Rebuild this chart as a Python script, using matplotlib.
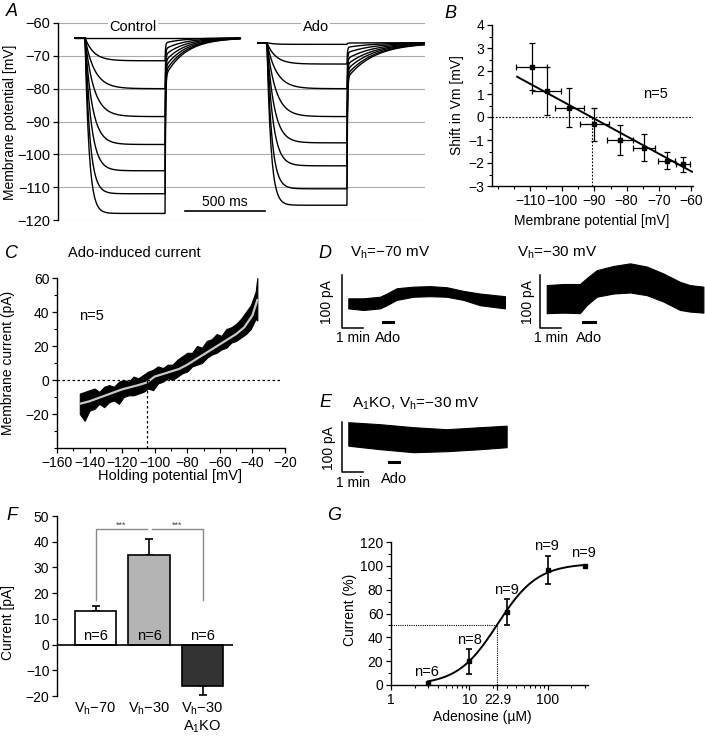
import numpy as np
import matplotlib
matplotlib.use("Agg")
import matplotlib.pyplot as plt
from matplotlib.ticker import MultipleLocator, LogLocator, NullFormatter

plt.rcParams['font.family'] = ['Liberation Sans', 'DejaVu Sans']
plt.rcParams['mathtext.fontset'] = 'custom'
plt.rcParams['mathtext.rm'] = 'Liberation Sans'
plt.rcParams['mathtext.it'] = 'Liberation Sans:italic'
plt.rcParams['font.size'] = 10
plt.rcParams['axes.linewidth'] = 1.0
for a in ('xtick', 'ytick'):
    plt.rcParams[a + '.direction'] = 'out'
    plt.rcParams[a + '.major.size'] = 3.5
    plt.rcParams[a + '.minor.size'] = 2
    plt.rcParams[a + '.major.width'] = 0.9
    plt.rcParams[a + '.minor.width'] = 0.8
    plt.rcParams[a + '.major.pad'] = 2
    plt.rcParams[a + '.labelsize'] = 10

# ---- A: voltage responses to current steps (ms, mV)
ctrl_times = [106, 169, 669, 1137]      # start, step on, step off, end
ado_times = [1250, 1306, 1806, 2294]
ctrl_base = -64.5
ado_base = -66.0
ctrl_steady = [-64.5, -71.5, -80, -88.5, -97, -105, -112, -118]
ado_steady = [-66.5, -72.5, -80, -88.5, -96.5, -103.5, -110.5, -115.5]
step_tau = [40, 55, 60, 55, 45, 38, 30, 25]
ctrl_tau_rec = 130
ado_tau_rec = 170

# ---- B: shift in Vm vs membrane potential
b_x = [-109.5, -104.8, -97.8, -90.0, -82.0, -74.6, -67.6, -62.4]
b_y = [2.19, 1.14, 0.41, -0.32, -1.0, -1.33, -1.9, -2.06]
b_xerr = [4.8, 4.5, 4.5, 4.5, 4.0, 3.4, 2.6, 2.2]
b_yerr = [1.03, 1.05, 0.83, 0.72, 0.67, 0.6, 0.37, 0.33]
b_fit_x = [-114.0, -59.7]
b_fit_y = [1.75, -2.38]
b_reversal = -90.8

# ---- C: Ado-induced current vs holding potential
c_x = [-146, -143, -140, -137, -134, -131, -128, -125, -122, -119, -116, -113, -110,
       -107, -104, -101, -98, -95, -92, -89, -86, -83, -80, -77, -74, -71, -68, -65,
       -62, -59, -56, -53, -50, -47, -44, -41, -38, -37]
c_upper = [-8, -7, -6, -5, -7, -4, -3, -4, -1, 0, -1, 2, 1, 3, 5, 6, 8, 7, 9, 9,
           12, 14, 16, 16, 20, 19, 23, 24, 27, 26, 30, 31, 33, 36, 40, 44, 52, 60]
c_lower = [-20, -24, -18, -17, -14, -16, -13, -12, -14, -10, -9, -9, -8, -7, -5, -6, -2, -1, 1, 0,
           2, 4, 5, 8, 9, 10, 13, 15, 16, 18, 19, 22, 23, 25, 27, 30, 36, 35]
c_fit_x = [-146, -140, -130, -120, -110, -105, -100, -95, -90, -85, -80, -70, -60, -50, -45, -40, -37]
c_fit_y = [-14, -12.5, -9, -5.5, -3, -1.5, 2, 3.5, 5, 6.5, 9, 15, 21, 27, 31, 38, 47]
c_reversal = -105

# ---- D / E: holding current traces (min, pA) as envelope of the noisy band
d1_x = [0.30, 1.02, 1.81, 2.13, 2.60, 3.40, 4.19, 4.98, 5.78, 6.57, 7.76]
d1_top = [56, 56, 59, 65, 75, 78, 79, 77, 70, 65, 60]
d1_bot = [37, 34, 37, 43, 53, 59, 60, 59, 53, 43, 37]
d2_x = [0.32, 1.11, 1.90, 2.22, 2.70, 3.49, 4.29, 5.08, 5.87, 6.67, 7.14, 7.78]
d2_top = [81, 83, 83, 94, 109, 117, 122, 116, 103, 87, 81, 78]
d2_bot = [28, 29, 28, 43, 59, 65, 67, 62, 50, 34, 31, 29]
e_x = [0.30, 1.81, 3.40, 4.98, 6.57, 7.84]
e_top = [99, 95, 89, 85, 89, 92]
e_bot = [52, 45, 39, 41, 45, 49]
ado_bar = [(1.95, 2.43), (2.05, 2.60), (2.24, 2.71)]

# ---- F: bar chart
f_labels = ['V$_\\mathrm{h}$\u221270', 'V$_\\mathrm{h}$\u221230', 'V$_\\mathrm{h}$\u221230\nA$_1$KO']
f_values = [13, 35, -16.2]
f_err = [2, 6, 3.3]
f_colors = ['white', '#b4b4b4', '#333333']

# ---- G: concentration-response
g_conc = [3, 10, 30, 100, 300]
g_resp = [1.4, 20, 61, 96.5, 100]
g_err = [0, 10.5, 11, 12, 0]
g_n = ['n=6', 'n=8', 'n=9', 'n=9', 'n=9']
g_n_pos = [(2.85, 11), (10, 38), (30, 79.5), (97, 116.5), (285, 110.8)]
g_ec50 = 22.9
g_hill = 1.7
g_top = 102

W, H = 705, 737
fig = plt.figure(figsize=(W / 100, H / 100), dpi=100)


def px_axes(left, top, right, bottom):
    return fig.add_axes([left / W, 1 - bottom / H, (right - left) / W, (bottom - top) / H])


def ftext(x, y, s, **kw):
    kw.setdefault('ha', 'center')
    kw.setdefault('va', 'center')
    return fig.text(x / W, 1 - y / H, s, **kw)


def clean(ax, keep=('left', 'bottom')):
    for side in ('left', 'right', 'top', 'bottom'):
        ax.spines[side].set_visible(side in keep)


# ===== A
axA = px_axes(58, 23, 425, 220)
clean(axA, keep=('left',))
axA.set_xlim(0, 2294)
axA.set_ylim(-120, -60)
axA.set_yticks(np.arange(-120, -59, 10))
axA.tick_params(axis='y', labelsize=10.5)
axA.set_xticks([])
axA.yaxis.grid(True, color='#aaaaaa', lw=0.8)
axA.set_axisbelow(True)

for times, base, steady, tau_rec in [(ctrl_times, ctrl_base, ctrl_steady, ctrl_tau_rec),
                                     (ado_times, ado_base, ado_steady, ado_tau_rec)]:
    t0, t_on, t_off, t_end = times
    for level, tau in zip(steady, step_tau):
        amp = level - base
        ta = np.array([t0, t_on])
        tb = np.linspace(0, t_off - t_on, 120)
        tc = np.linspace(0, t_end - t_off, 160)
        vb = base + amp * (1 - np.exp(-tb / tau))
        vc = base + amp * (0.78 * np.exp(-tc / 3) + 0.22 * np.exp(-tc / tau_rec))
        t = np.concatenate([ta, t_on + tb, t_off + tc])
        v = np.concatenate([[base, base], vb, vc])
        axA.plot(t, v, color='black', lw=1.0)

axA.text(470, -61.3, 'Control', ha='center', va='center', fontsize=10.5,
         bbox=dict(facecolor='white', edgecolor='none', pad=1))
axA.text(1610, -61.3, 'Ado', ha='center', va='center', fontsize=10.5,
         bbox=dict(facecolor='white', edgecolor='none', pad=1))
axA.plot([794, 1294], [-117.3, -117.3], color='black', lw=1.2)
axA.text(1044, -114.6, '500 ms', ha='center', va='center', fontsize=10)
ftext(10, 122, 'Membrane potential [mV]', rotation=90, fontsize=10)

# ===== B
axB = px_axes(492, 25, 693, 186)
clean(axB)
axB.set_xlim(-121.8, -59.4)
axB.set_ylim(-3, 4)
axB.set_xticks(np.arange(-110, -59, 10))
axB.xaxis.set_minor_locator(MultipleLocator(5))
axB.set_yticks(np.arange(-3, 4.1, 1))
axB.yaxis.set_minor_locator(MultipleLocator(0.5))
axB.plot([-121.8, -59.4], [0, 0], ls=(0, (1.5, 1.5)), color='black', lw=0.8)
axB.plot([b_reversal, b_reversal], [-3, 0], ls=(0, (1.5, 1.5)), color='black', lw=0.8)
axB.plot(b_fit_x, b_fit_y, color='black', lw=1.4)
axB.errorbar(b_x, b_y, xerr=b_xerr, yerr=b_yerr, fmt='s', ms=3, color='black',
             ecolor='black', elinewidth=0.9, capsize=2, capthick=0.9)
axB.text(-71, 1.0, 'n=5', ha='center', va='center', fontsize=10.5)
ftext(457, 105, 'Shift in Vm [mV]', rotation=90, fontsize=10)
ftext(592, 221, 'Membrane potential [mV]', fontsize=10)

# ===== C
axC = px_axes(57, 278, 285, 448)
clean(axC)
axC.set_xlim(-160, -20)
axC.set_ylim(-40, 60)
axC.set_xticks(np.arange(-160, -19, 20))
axC.xaxis.set_minor_locator(MultipleLocator(10))
axC.set_yticks(np.arange(-20, 61, 20))
axC.yaxis.set_minor_locator(MultipleLocator(10))
axC.fill_between(c_x, c_lower, c_upper, color='black', lw=0.8, edgecolor='black')
axC.plot(c_fit_x, c_fit_y, color='#c8c8c8', lw=1.6)
axC.plot([-160, -22], [0, 0], ls=(0, (2, 2)), color='black', lw=0.9)
axC.plot([c_reversal, c_reversal], [-40, 0], ls=(0, (2, 2)), color='black', lw=0.9)
axC.text(-139, 37.5, 'n=5', ha='center', va='center', fontsize=10.5)
ftext(68, 253, 'Ado-induced current', ha='left', fontsize=10.5)
ftext(8, 363, 'Membrane current (pA)', rotation=90, fontsize=10)
ftext(170, 476, 'Holding potential [mV]', fontsize=10.5)


# ===== D / E traces
def trace_panel(box, x0_px, y0_px, px_per_pa, xs, top, bot, bar, offs):
    left, top_px, right, bottom = box
    ax = px_axes(left, top_px, right, bottom)
    ax.axis('off')
    ax.set_xlim((left - x0_px) / 21, (right - x0_px) / 21)
    ax.set_ylim(-(bottom - y0_px) / px_per_pa, (y0_px - top_px) / px_per_pa)
    ax.fill_between(xs, bot, top, color='black', lw=0.8, edgecolor='black')
    ax.plot([0, 0, 1], [100, 0, 0], color='black', lw=1.1, clip_on=False)
    ax.plot(bar, [offs[2], offs[2]], color='black', lw=2.2, clip_on=False)
    ax.text(0.52, offs[0], '1 min', ha='center', va='center', fontsize=10, clip_on=False)
    ax.text(sum(bar) / 2, offs[1], 'Ado', ha='center', va='center', fontsize=10.5, clip_on=False)
    ax.text(offs[3], 48, '100 pA', ha='center', va='center', rotation=90, fontsize=10)
    return ax


trace_panel((320, 255, 515, 345), 342, 328, 0.53, d1_x, d1_top, d1_bot, ado_bar[0], (-19, -19, 11.5, -0.7))
trace_panel((515, 255, 705, 345), 540, 328, 0.53, d2_x, d2_top, d2_bot, ado_bar[1], (-19, -19, 11.9, -0.55))
trace_panel((320, 405, 515, 495), 342, 471.7, 0.5, e_x, e_top, e_bot, ado_bar[2], (-22.6, -14.6, 18.8, -0.6))
ftext(350, 253, 'V$_\\mathrm{h}$=\u221270 mV', ha='left', fontsize=11)
ftext(517, 253, 'V$_\\mathrm{h}$=\u221230 mV', ha='left', fontsize=11)
ftext(352, 404, 'A$_1$KO, V$_\\mathrm{h}$=\u221230 mV', ha='left', fontsize=11)

# ===== F
axF = px_axes(57, 516, 233, 696)
clean(axF, keep=('left',))
pos = np.arange(len(f_values))
axF.set_xlim(-0.72, 2.57)
axF.set_ylim(-20, 50)
axF.set_yticks(np.arange(-20, 51, 10))
axF.bar(pos, f_values, width=0.77, color=f_colors, edgecolor='black', lw=1.2, zorder=2)
err_lo = [0 if v > 0 else e for v, e in zip(f_values, f_err)]
err_hi = [e if v > 0 else 0 for v, e in zip(f_values, f_err)]
axF.errorbar(pos, f_values, yerr=[err_lo, err_hi], fmt='none', ecolor='black',
             elinewidth=1.2, capsize=3, capthick=1.2, zorder=1)
axF.axhline(0, color='black', lw=1.2, zorder=3)
axF.set_xticks(pos)
axF.set_xticklabels(f_labels, fontsize=10.5)
axF.tick_params(axis='x', length=0, pad=3)
for p in pos:
    axF.text(p, 3.2, 'n=6', ha='center', va='center', fontsize=10.5, zorder=4)
br = '#8a8a8a'
axF.plot([0, 0, 0.957], [17.5, 44.8, 44.8], color=br, lw=1.0)
axF.plot([1.05, 2.01, 2.01], [44.8, 44.8, 17.5], color=br, lw=1.0)
axF.text(0.48, 44.6, '***', ha='center', va='bottom', fontsize=6.5, color='#444444')
axF.text(1.52, 44.6, '***', ha='center', va='bottom', fontsize=6.5, color='#444444')
ftext(8, 622, 'Current [pA]', rotation=90, fontsize=10)

# ===== G
axG = px_axes(391, 542, 588, 685)
clean(axG)
axG.set_xscale('log')
axG.set_xlim(1, 328)
axG.set_ylim(0, 120)
axG.set_yticks(np.arange(0, 121, 20))
axG.yaxis.set_minor_locator(MultipleLocator(10))
axG.set_xticks([1, 10, g_ec50, 100])
axG.set_xticklabels(['1', '10', '22.9', '100'])
axG.xaxis.set_minor_locator(LogLocator(base=10, subs=np.arange(2, 10)))
axG.xaxis.set_minor_formatter(NullFormatter())
xs = np.logspace(np.log10(g_conc[0]), np.log10(g_conc[-1]), 200)
axG.plot(xs, g_top / (1 + (g_ec50 / xs) ** g_hill), color='black', lw=1.4)
axG.plot([1, g_ec50, g_ec50], [50, 50, 0], ls=(0, (1, 1)), color='black', lw=0.8)
axG.plot(g_conc, g_resp, 's', ms=3.5, color='black', clip_on=False, zorder=4)
with_err = [i for i, e in enumerate(g_err) if e > 0]
axG.errorbar([g_conc[i] for i in with_err], [g_resp[i] for i in with_err],
             yerr=[g_err[i] for i in with_err], fmt='none', ecolor='black',
             elinewidth=1.2, capsize=2.5, capthick=1.2)
for s, (x, y) in zip(g_n, g_n_pos):
    axG.text(x, y, s, ha='center', va='center', fontsize=10.5)
ftext(350, 610, 'Current (%)', rotation=90, fontsize=10)
ftext(482, 717, 'Adenosine (\u00b5M)', fontsize=10)

# panel letters
for s, x, y in [('A', 12, 11), ('B', 450, 13), ('C', 12, 254), ('D', 325, 253),
                ('E', 325, 403), ('F', 12, 515), ('G', 334, 516)]:
    ftext(x, y, s, fontsize=13, fontstyle='italic')

fig.savefig('out.png', dpi=100)
